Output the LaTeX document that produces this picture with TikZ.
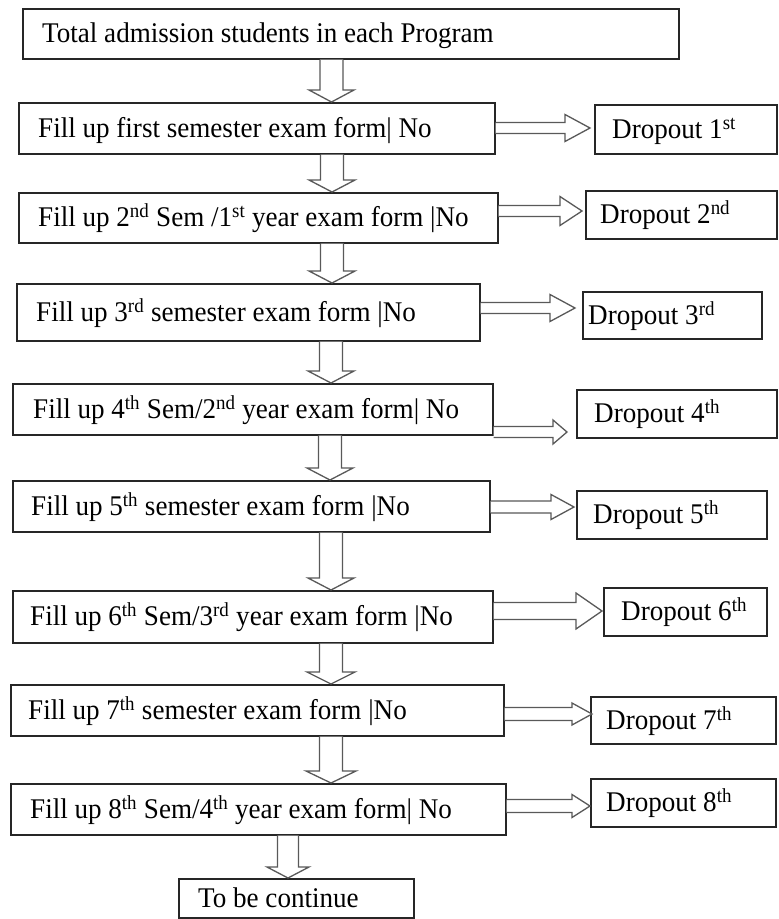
\documentclass[tikz,border=0pt]{standalone}
\usepackage{fontspec}
\setmainfont[FakeStretch=0.95]{Liberation Serif}
\usetikzlibrary{calc}
\tikzset{
  boxst/.style={draw=black!85, line width=1.6pt, fill=white, inner sep=0pt, anchor=north west},
  txtst/.style={anchor=base west, inner sep=0pt, font=\fontsize{28.5}{32}\selectfont},
  arrst/.style={draw=black!65, line width=1.3pt, fill=white, line join=miter}
}
% box: name, x1, y1, x2, y2
\newcommand\fbx[5]{\node[boxst, minimum width={#4-#2}, minimum height={#5-#3}] (#1) at (#2,#3) {};}
% text in box: box name, x offset from west, text
\newcommand\tbx[3]{\node[txtst] (#1t) at ($(#1.west)+(#2,9)$) {#3};}
% down block arrow: from, to, x centre, shaft half, head half, head length
\newcommand\dnarr[6]{\draw[arrst] let \p1=(#1.south), \p2=(#2.north) in
  (#3pt-#4pt,\y1) -- (#3pt-#4pt,\y2+#6pt) -- (#3pt-#5pt,\y2+#6pt) -- (#3pt,\y2)
  -- (#3pt+#5pt,\y2+#6pt) -- (#3pt+#4pt,\y2+#6pt) -- (#3pt+#4pt,\y1);}
% right block arrow: from, to, y, shaft half, head half, head length, tip gap
\newcommand\rtarr[7]{\draw[arrst] let \p1=(#1.east), \p2=(#2.west) in
  (\x1,-#3pt+#4pt) -- (\x2-#7pt-#6pt,-#3pt+#4pt) -- (\x2-#7pt-#6pt,-#3pt+#5pt) -- (\x2-#7pt,-#3pt)
  -- (\x2-#7pt-#6pt,-#3pt-#5pt) -- (\x2-#7pt-#6pt,-#3pt-#4pt) -- (\x1,-#3pt-#4pt);}
\begin{document}
\begin{tikzpicture}[x=1pt,y=-1pt]
\useasboundingbox[fill=white] (0,0) rectangle (779,919);
% boxes
\fbx{b0}{22}{8}{678}{58}
\fbx{b1}{18}{102}{494}{153}
\fbx{d1}{594}{104}{776}{153}
\fbx{b2}{18}{192}{497}{242}
\fbx{d2}{585}{190}{776}{238}
\fbx{b3}{16}{283}{479}{340}
\fbx{d3}{582}{291}{761}{338}
\fbx{b4}{12}{383}{492}{434}
\fbx{d4}{576}{389}{776}{437}
\fbx{b5}{12}{480}{489}{531}
\fbx{d5}{576}{490}{766}{538}
\fbx{b6}{12}{590}{492}{642}
\fbx{d6}{603}{587}{766}{635}
\fbx{b7}{10}{684}{503}{735}
\fbx{d7}{590}{696}{775}{743}
\fbx{b8}{10}{783}{505}{834}
\fbx{d8}{590}{778}{775}{826}
\fbx{c}{178}{878}{413}{917}
% texts
\tbx{b0}{20}{Total admission students in each Program}
\tbx{b1}{20}{Fill up first semester exam form| No}
\tbx{d1}{18}{Dropout 1\textsuperscript{st}}
\tbx{b2}{20}{Fill up 2\textsuperscript{nd} Sem /1\textsuperscript{st} year exam form |No}
\tbx{d2}{15}{Dropout 2\textsuperscript{nd}}
\tbx{b3}{20}{Fill up 3\textsuperscript{rd} semester exam form |No}
\tbx{d3}{6}{Dropout 3\textsuperscript{rd}}
\tbx{b4}{21}{Fill up 4\textsuperscript{th} Sem/2\textsuperscript{nd} year exam form| No}
\tbx{d4}{18}{Dropout 4\textsuperscript{th}}
\tbx{b5}{19}{Fill up 5\textsuperscript{th} semester exam form |No}
\tbx{d5}{17}{Dropout 5\textsuperscript{th}}
\tbx{b6}{18}{Fill up 6\textsuperscript{th} Sem/3\textsuperscript{rd} year exam form |No}
\tbx{d6}{18}{Dropout 6\textsuperscript{th}}
\tbx{b7}{18}{Fill up 7\textsuperscript{th} semester exam form |No}
\tbx{d7}{16}{Dropout 7\textsuperscript{th}}
\tbx{b8}{20}{Fill up 8\textsuperscript{th} Sem/4\textsuperscript{th} year exam form| No}
\tbx{d8}{16}{Dropout 8\textsuperscript{th}}
\tbx{c}{20}{To be continue}
% down arrows
\dnarr{b0}{b1}{331.5}{11.5}{22.5}{12}
\dnarr{b1}{b2}{332}{11.5}{23}{12}
\dnarr{b2}{b3}{332}{11.5}{23}{12}
\dnarr{b3}{b4}{331}{11.5}{23}{12}
\dnarr{b4}{b5}{330}{11.5}{23}{12}
\dnarr{b5}{b6}{331}{11.5}{23}{12}
\dnarr{b6}{b7}{331}{11.5}{24}{12}
\dnarr{b7}{b8}{331}{11.5}{25}{12}
\dnarr{b8}{c}{288}{10.5}{21}{11}
% right arrows
\rtarr{b1}{d1}{128}{5.5}{13.5}{25}{4}
\rtarr{b2}{d2}{211}{5.5}{14.5}{22}{3}
\rtarr{b3}{d3}{308}{5.5}{13.5}{25}{7}
\rtarr{b4}{d4}{432}{5.5}{12}{14}{9}
\rtarr{b5}{d5}{507}{6}{12.5}{23}{2}
\rtarr{b6}{d6}{611}{8.5}{18}{26}{1}
\rtarr{b7}{d7}{714}{6.5}{11}{20}{-2}
\rtarr{b8}{d8}{806}{6.5}{11.5}{18}{0}
\end{tikzpicture}
\end{document}
